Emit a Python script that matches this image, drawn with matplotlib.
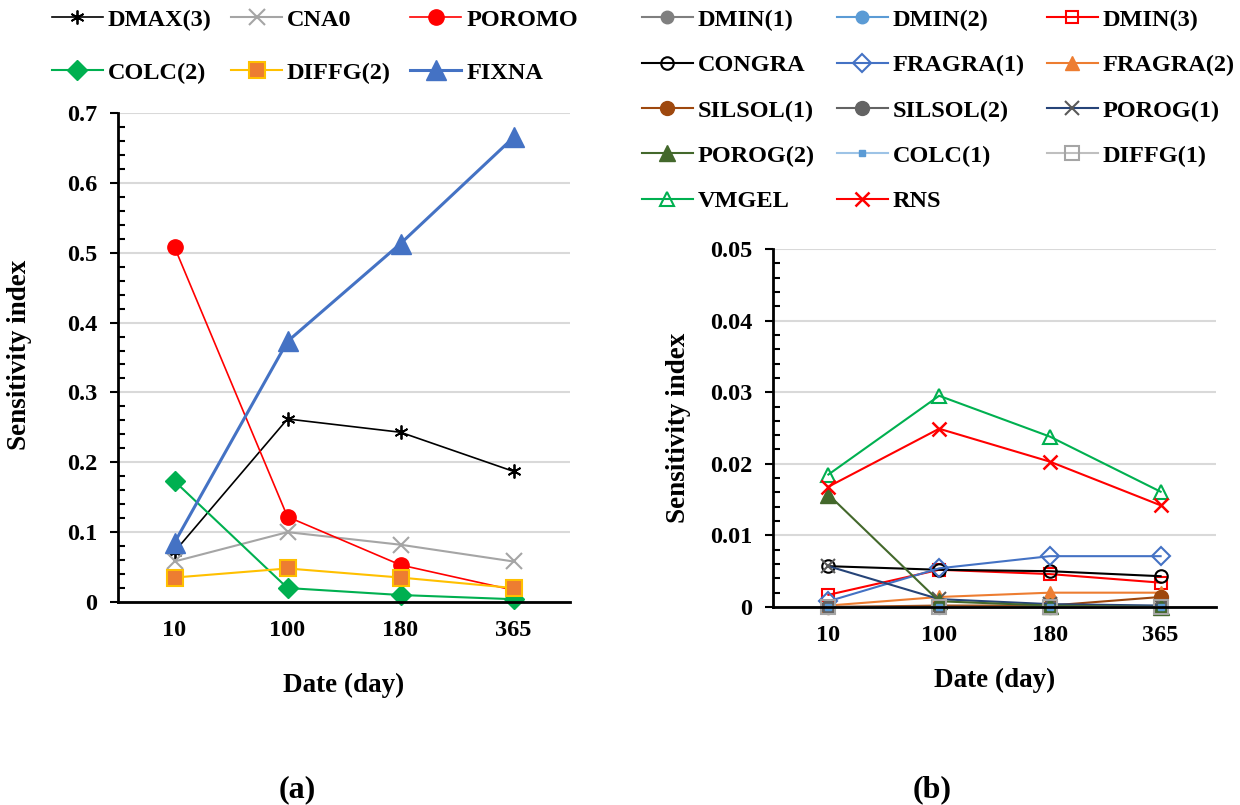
import matplotlib.pyplot as plt
from matplotlib.ticker import MultipleLocator
import numpy as np

plt.rcParams['font.family'] = ['Liberation Serif', 'DejaVu Serif']
plt.rcParams['font.weight'] = 'bold'

days = ['10', '100', '180', '365']

# panel (a)
dmax3 = [0.072, 0.262, 0.243, 0.187]
cna0 = [0.058, 0.100, 0.082, 0.058]
poromo = [0.508, 0.122, 0.053, 0.017]
colc2 = [0.173, 0.020, 0.010, 0.004]
diffg2 = [0.035, 0.048, 0.035, 0.020]
fixna = [0.085, 0.373, 0.513, 0.665]

# panel (b)
dmin1 = [0.0, 0.0, 0.0, 0.0]
dmin2 = [0.0, 0.0, 0.0, 0.0]
dmin3 = [0.0017, 0.0052, 0.0046, 0.0034]
congra = [0.0057, 0.0052, 0.0050, 0.0043]
fragra1 = [0.0008, 0.0054, 0.0071, 0.0071]
fragra2 = [0.0002, 0.0014, 0.0020, 0.0020]
silsol1 = [0.0, 0.0002, 0.0002, 0.0014]
silsol2 = [0.0, 0.0, 0.0, 0.0]
porog1 = [0.0057, 0.0011, 0.0004, 0.0002]
porog2 = [0.0157, 0.0008, 0.0002, 0.0]
colc1 = [0.0, 0.0, 0.0, 0.0]
diffg1 = [0.0, 0.0, 0.0, 0.0]
vmgel = [0.0185, 0.0295, 0.0238, 0.0161]
rns = [0.0168, 0.0249, 0.0203, 0.0142]

FS = 17.5   # ticks / legend
LFS = 19.5  # axis labels
x = np.arange(len(days))

fig = plt.figure(figsize=(12.4, 8.05), dpi=100)
axa = fig.add_axes([118/1240, 1-602/805, 452/1240, 489/805])
axb = fig.add_axes([773/1240, 1-607/805, 443/1240, 358/805])


def style(ax, ymax, major, minor):
    ax.set_xlim(-0.5, len(days) - 0.5)
    ax.set_ylim(0, ymax)
    ax.set_xticks(x)
    ax.set_xticklabels(days)
    ax.yaxis.set_major_locator(MultipleLocator(major))
    ax.yaxis.set_minor_locator(MultipleLocator(minor))
    ax.grid(axis='y', color='#d9d9d9', lw=1.5, zorder=0)
    ax.set_axisbelow(True)
    for s in ['top', 'right']:
        ax.spines[s].set_visible(False)
    for s in ['left', 'bottom']:
        ax.spines[s].set_linewidth(2)
    ax.tick_params(axis='x', length=0, pad=13, labelsize=FS)
    ax.tick_params(axis='y', which='major', direction='out', length=6, width=1.5, labelsize=FS, pad=9)
    ax.tick_params(axis='y', which='minor', direction='in', length=5, width=1.5)
    ax.set_xlabel('Date (day)', fontsize=LFS, fontweight='bold')
    ax.set_ylabel('Sensitivity index', fontsize=LFS, fontweight='bold')


def colmajor(items, ncol):
    out = []
    for c in range(ncol):
        out += items[c::ncol]
    return out


style(axa, 0.7, 0.1, 0.02)
axa.yaxis.set_major_formatter(plt.FuncFormatter(lambda v, p: '0' if v == 0 else f'{v:.1f}'))
axa.yaxis.set_label_coords(-0.19, 0.505)
axa.xaxis.set_label_coords(0.5, -0.145)

ha = []
ha += axa.plot(x, dmax3, color='black', lw=1.2, marker=(6, 2, 0), ms=10, mew=1.3, label='DMAX(3)')
ha += axa.plot(x, cna0, color='#a5a5a5', lw=1.5, marker='x', ms=12, mew=1.5, label='CNA0')
ha += axa.plot(x, poromo, color='#ff0000', lw=1.2, marker='o', ms=11, label='POROMO')
ha += axa.plot(x, colc2, color='#00b050', lw=1.5, marker='D', ms=10, label='COLC(2)')
ha += axa.plot(x, diffg2, color='#ffc000', lw=1.5, marker='s', ms=12, mfc='#ed7d31', mec='#ffc000', mew=1.5, label='DIFFG(2)')
ha += axa.plot(x, fixna, color='#4472c4', lw=2.2, marker='^', ms=14, label='FIXNA')
for h in ha:
    h.set_clip_on(False)

fig.legend(handles=colmajor(ha, 3), loc='upper left', bbox_to_anchor=(47/1240, 1 - 4/805), ncol=3,
           frameon=False, fontsize=FS, handlelength=2.1, handletextpad=0.2, columnspacing=0.8,
           labelspacing=1.27, borderpad=0.2, borderaxespad=0.0)

style(axb, 0.05, 0.01, 0.002)
axb.yaxis.set_major_formatter(plt.FuncFormatter(lambda v, p: '0' if v == 0 else f'{v:.2f}'))
axb.yaxis.set_label_coords(-0.185, 0.5)
axb.xaxis.set_label_coords(0.5, -0.17)

hb = []
hb += axb.plot(x, dmin1, color='#7f7f7f', lw=1.5, marker='o', ms=9, label='DMIN(1)')
hb += axb.plot(x, dmin2, color='#5b9bd5', lw=1.5, marker='o', ms=9, label='DMIN(2)')
hb += axb.plot(x, dmin3, color='#ff0000', lw=1.5, marker='s', ms=9, mfc='none', mew=1.5, label='DMIN(3)')
hb += axb.plot(x, congra, color='black', lw=1.5, marker='o', ms=9, mfc='none', mew=1.5, label='CONGRA')
hb += axb.plot(x, fragra1, color='#4472c4', lw=1.5, marker='D', ms=9, mfc='none', mew=1.5, label='FRAGRA(1)')
hb += axb.plot(x, fragra2, color='#ed7d31', lw=1.5, marker='^', ms=10, label='FRAGRA(2)')
hb += axb.plot(x, silsol1, color='#9e480e', lw=1.5, marker='o', ms=10, label='SILSOL(1)')
hb += axb.plot(x, silsol2, color='#636363', lw=1.5, marker='o', ms=10, label='SILSOL(2)')
hb += axb.plot(x, porog1, color='#264478', lw=1.5, marker='x', ms=10, mec='#595959', mew=1.5, label='POROG(1)')
hb += axb.plot(x, porog2, color='#43682b', lw=1.5, marker='^', ms=11, label='POROG(2)')
hb += axb.plot(x, colc1, color='#9dc3e6', lw=1.5, marker='s', ms=4, mfc='#5b9bd5', mec='#5b9bd5', label='COLC(1)')
hb += axb.plot(x, diffg1, color='#bfbfbf', lw=1.5, marker='s', ms=10, mfc='none', mec='#a5a5a5', mew=1.5, label='DIFFG(1)')
hb += axb.plot(x, vmgel, color='#00b050', lw=1.5, marker='^', ms=10, mfc='none', mew=1.5, label='VMGEL')
hb += axb.plot(x, rns, color='#ff0000', lw=1.5, marker='x', ms=10, mew=1.8, label='RNS')
for h in hb:
    h.set_clip_on(False)

fig.legend(handles=colmajor(hb, 3), loc='upper left', bbox_to_anchor=(637/1240, 1 - 4/805), ncol=3,
           frameon=False, fontsize=FS, handlelength=2.1, handletextpad=0.2, columnspacing=0.9,
           labelspacing=0.96, borderpad=0.2, borderaxespad=0.0)

fig.text(297/1240, 1-790/805, '(a)', ha='center', va='center', fontsize=23, fontweight='bold')
fig.text(932/1240, 1-790/805, '(b)', ha='center', va='center', fontsize=23, fontweight='bold')

fig.savefig('out.png', dpi=100)
